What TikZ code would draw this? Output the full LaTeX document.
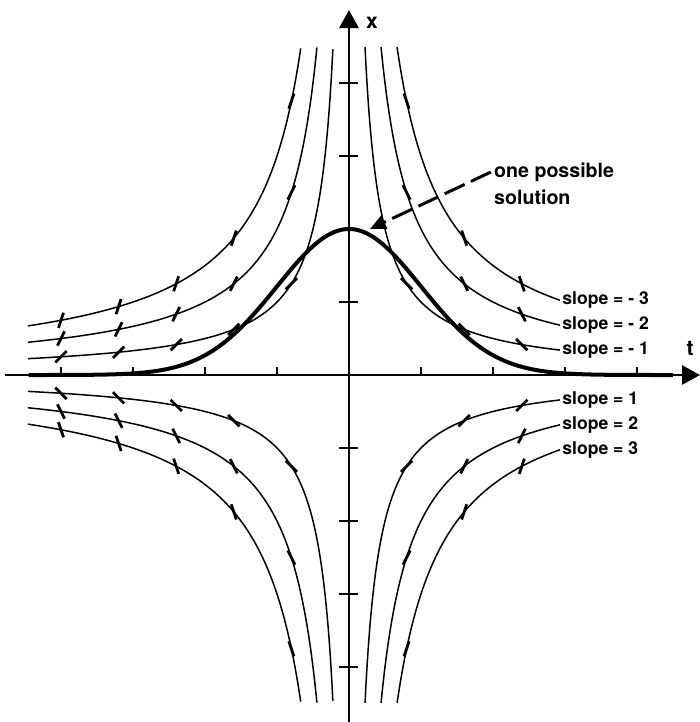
\documentclass[tikz,border=0pt]{standalone}
\usepackage{fontspec}
\setmainfont{TeX Gyre Heros}
\usetikzlibrary{arrows.meta, positioning, calc}

\begin{document}
\begin{tikzpicture}[
    x=36pt, y=36.5pt,
    >={Triangle[length=9pt, width=9.5pt]},
    axis/.style={line width=1.4pt, ->},
    ax_tick/.style={line width=1.2pt},
    isocline/.style={line width=0.75pt, samples=200, smooth},
    slope_mark/.style={line width=1.4pt},
    sol_curve/.style={line width=2pt, samples=200, smooth},
    pointer/.style={line width=1.5pt, dash pattern=on 11pt off 3.5pt, -{Triangle[length=8pt, width=7pt]}},
    slope_lbl/.style={anchor=west, inner sep=1pt, font=\fontsize{8.8}{10}\selectfont\bfseries},
    sol_lbl/.style={inner sep=1.5pt, text height=7.6pt, text depth=2.4pt, font=\fontsize{9.8}{12}\selectfont\bfseries},
    ax_lbl/.style={inner sep=0pt, font=\fontsize{10.5}{12}\selectfont\bfseries}
]
    \useasboundingbox (-4.847,-4.753) rectangle (4.875,5.137);

    % Isoclines x = c/t, right branches end at their labels
    \foreach \c/\lbl [count=\n] in {1/{- 1}, 2/{- 2}, 3/{- 3}, -1/1, -2/2, -3/3} {
        \pgfmathsetmacro{\ttop}{abs(\c)/4.49}
        \node[slope_lbl] (slope\n) at (2.93,{\c/2.93}) {slope = \lbl};
        \draw[isocline] plot[domain=\ttop:2.93] (\x,{\c/(\x)}) -- (slope\n.west);
        \draw[isocline] plot[domain=-4.46:-\ttop] (\x,{\c/(\x)});
    }

    % Direction marks along the isoclines
    \foreach \c in {-3,-2,-1,1,2,3}
        \foreach \t in {-4,-3.2,-2.4,-1.6,-0.8,0.8,1.6,2.4} {
            \pgfmathsetmacro{\ang}{atan(-1*(\c))}
            \draw[slope_mark] (\t,{\c/(\t)}) ++(\ang:-4pt) -- ++(\ang:8pt);
        }

    % One solution curve
    \draw[sol_curve] plot[domain=-4.45:4.5] (\x,{2*exp(-0.5*(\x)*(\x))});

    % Axes
    \coordinate (t_min) at (-4.78,0);
    \coordinate (t_max) at (4.875,0);
    \coordinate (x_min) at (0,-4.753);
    \coordinate (x_max) at (0,5.0);
    \draw[axis] (t_min) -- (t_max);
    \draw[axis] (x_min) -- (x_max);
    \foreach \i in {-4,-3,-2,-1,1,2,3,4} {
        \draw[ax_tick] (\i,0) -- ++(90:4pt);
        \draw[ax_tick] (0,\i) ++(180:4.75pt) -- ++(0:9.5pt);
    }
    \node[ax_lbl] (t_lbl) at (4.736,0.37) {t};
    \node[ax_lbl] (x_lbl) at (0.319,4.822) {x};

    % Pointer to the solution
    \coordinate (sol_touch) at (0.29,2.0);
    \node[sol_lbl, anchor=west] (solA) at (1.97,2.78) {one possible};
    \node[sol_lbl, anchor=north west] (solB) at (solA.south west) {solution};
    \draw[pointer] (solA.west) -- (sol_touch);

\end{tikzpicture}
\end{document}
